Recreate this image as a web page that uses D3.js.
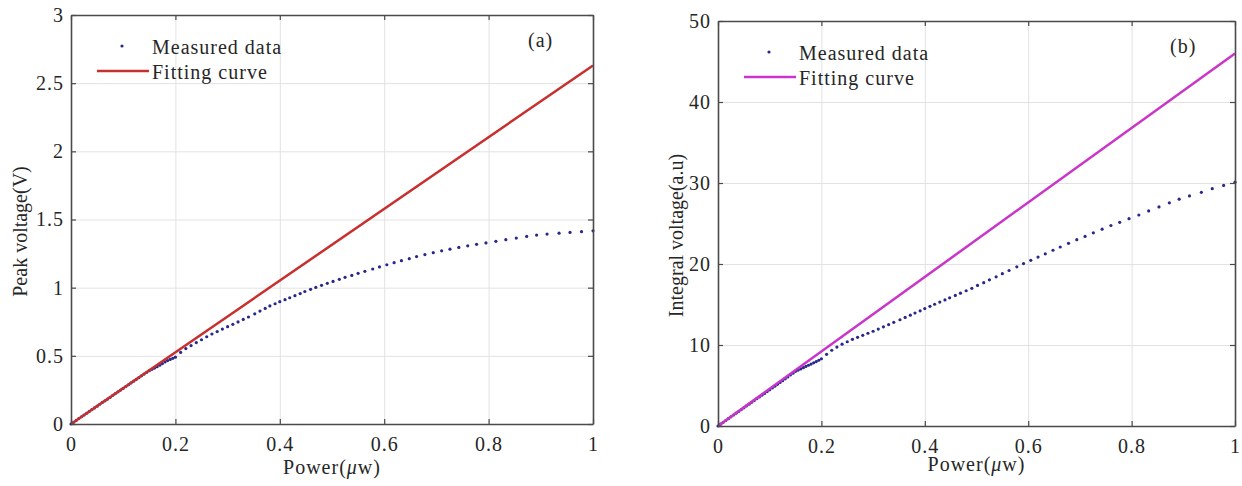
<!DOCTYPE html>
<html>
<head>
<meta charset="utf-8">
<script src="https://cdn.jsdelivr.net/npm/d3@7"></script>
<style>
  body { margin: 0; background: #fff; }
  svg text { font-family: "Liberation Serif", "Times New Roman", serif; fill: #262626; }
</style>
</head>
<body>
<svg id="chart" width="1242" height="486"></svg>
<script>
// measured power (uW), shared by both panels
const power = [
  0, 0.005, 0.01, 0.015, 0.02, 0.025, 0.03, 0.035, 0.04, 0.045, 0.05, 0.055, 0.06, 0.065, 0.07,
  0.075, 0.08, 0.085, 0.09, 0.095, 0.1, 0.105, 0.11, 0.115, 0.12, 0.125, 0.13, 0.135, 0.14, 0.145,
  0.15, 0.155, 0.16, 0.165, 0.17, 0.175, 0.18, 0.185, 0.19, 0.195, 0.2,
  0.21, 0.22, 0.23, 0.24, 0.25, 0.26, 0.27, 0.28, 0.29, 0.3, 0.31, 0.32, 0.33, 0.34,
  0.352, 0.362, 0.372, 0.381, 0.391, 0.4, 0.41, 0.419, 0.429, 0.439, 0.448, 0.459, 0.469, 0.48,
  0.491, 0.502, 0.514, 0.525, 0.538, 0.55, 0.563, 0.578, 0.591, 0.605, 0.619, 0.633, 0.648, 0.662,
  0.678, 0.694, 0.71,
  0.726, 0.743, 0.76, 0.777, 0.795, 0.814, 0.833, 0.853, 0.873, 0.892, 0.912, 0.935, 0.956, 0.978, 1
];

// (a) peak voltage (V)
const peakVoltage = [
  0, 0.013, 0.026, 0.04, 0.053, 0.066, 0.079, 0.092, 0.105, 0.118, 0.131, 0.145, 0.158, 0.17, 0.183,
  0.196, 0.21, 0.223, 0.236, 0.249, 0.262, 0.275, 0.288, 0.301, 0.314, 0.327, 0.34, 0.353, 0.366, 0.379,
  0.391, 0.401, 0.41, 0.42, 0.431, 0.443, 0.455, 0.465, 0.474, 0.482, 0.49,
  0.525, 0.553, 0.575, 0.597, 0.618, 0.64, 0.66, 0.678, 0.696, 0.714, 0.731, 0.749, 0.767, 0.785,
  0.808, 0.828, 0.848, 0.866, 0.882, 0.897, 0.912, 0.926, 0.941, 0.957, 0.972, 0.988, 1.002, 1.017,
  1.032, 1.046, 1.061, 1.076, 1.09, 1.105, 1.12, 1.137, 1.152, 1.168, 1.183, 1.198, 1.213, 1.228,
  1.243, 1.257, 1.27,
  1.282, 1.295, 1.307, 1.318, 1.328, 1.34, 1.352, 1.364, 1.376, 1.386, 1.393, 1.4, 1.405, 1.411, 1.417
];

// (b) integral voltage (a.u)
const integralVoltage = [
  0, 0.22, 0.45, 0.68, 0.9, 1.13, 1.36, 1.58, 1.8, 2.03, 2.25, 2.48, 2.7, 2.92, 3.15,
  3.37, 3.58, 3.8, 4.02, 4.25, 4.47, 4.7, 4.92, 5.15, 5.38, 5.6, 5.83, 6.06, 6.3, 6.52,
  6.75, 6.9, 7.05, 7.2, 7.35, 7.5, 7.65, 7.8, 7.95, 8.12, 8.3,
  8.85, 9.35, 9.75, 10.1, 10.4, 10.7, 10.95, 11.2, 11.45, 11.7, 11.97, 12.25, 12.52, 12.8,
  13.12, 13.4, 13.68, 13.95, 14.22, 14.5, 14.78, 15.03, 15.3, 15.57, 15.82, 16.12, 16.4, 16.7,
  17.0, 17.35, 17.7, 18.05, 18.42, 18.8, 19.2, 19.65, 20.05, 20.45, 20.85, 21.25, 21.7, 22.1,
  22.55, 23.0, 23.4,
  23.85, 24.3, 24.75, 25.15, 25.6, 26.05, 26.55, 27.05, 27.55, 28.0, 28.4, 28.85, 29.3, 29.7, 30.1
];

// fitted lines (end points)
const fitPower = [0, 1];
const fitPeak = [0, 2.63];
const fitIntegral = [0, 46];

// ticks
const xTicks = [0, 0.2, 0.4, 0.6, 0.8, 1];
const yTicksA = [0, 0.5, 1, 1.5, 2, 2.5, 3];
const yTicksB = [0, 10, 20, 30, 40, 50];

const svg = d3.select("#chart");
const dotColor = "#27288a";
const boxColor = "#4a4a4a";

function drawPanel(box, yDomain, yTicks, yValues, fitValues, fitColor, yLabel, tag, xLabelY, yLabelX) {
    const x = d3.scaleLinear().domain([0, 1]).range([box.left, box.right]);
    const y = d3.scaleLinear().domain(yDomain).range([box.bottom, box.top]);
    const w = box.right - box.left;
    const h = box.bottom - box.top;
    const g = svg.append("g");

    // grid lines
    g.append("g")
        .attr("transform", `translate(0,${box.bottom})`)
        .call(d3.axisBottom(x).tickValues(xTicks).tickSize(-h).tickFormat(""))
        .call(s => s.select(".domain").remove())
        .selectAll("line").attr("stroke", "#e2e2e2").attr("stroke-width", 1);
    g.append("g")
        .attr("transform", `translate(${box.left},0)`)
        .call(d3.axisLeft(y).tickValues(yTicks).tickSize(-w).tickFormat(""))
        .call(s => s.select(".domain").remove())
        .selectAll("line").attr("stroke", "#e2e2e2").attr("stroke-width", 1);

    // measured dots
    g.append("g").selectAll("circle")
        .data(power.map((p, i) => [p, yValues[i]]))
        .enter()
        .append("circle")
        .attr("cx", d => x(d[0]))
        .attr("cy", d => y(d[1]))
        .attr("r", 1.6)
        .attr("fill", dotColor);

    // fitting curve
    const line = d3.line().x(d => x(d[0])).y(d => y(d[1]));
    g.append("path")
        .datum(fitPower.map((p, i) => [p, fitValues[i]]))
        .attr("d", line)
        .attr("fill", "none")
        .attr("stroke", fitColor)
        .attr("stroke-width", 2.5);

    // box with inward ticks on all sides
    const styleAxis = s => {
        s.select(".domain").attr("stroke", boxColor).attr("stroke-width", 1.6);
        s.selectAll(".tick line").attr("stroke", boxColor).attr("stroke-width", 1.2);
        s.selectAll("text").attr("font-size", 20).attr("letter-spacing", "1px").attr("fill", "#262626");
    };
    g.append("g")
        .attr("transform", `translate(0,${box.bottom})`)
        .call(d3.axisBottom(x).tickValues(xTicks).tickSizeInner(-5).tickSizeOuter(0).tickPadding(13).tickFormat(d => String(d)))
        .call(styleAxis);
    g.append("g")
        .attr("transform", `translate(0,${box.top})`)
        .call(d3.axisTop(x).tickValues(xTicks).tickSizeInner(-5).tickSizeOuter(0).tickFormat(""))
        .call(styleAxis);
    g.append("g")
        .attr("transform", `translate(${box.left},0)`)
        .call(d3.axisLeft(y).tickValues(yTicks).tickSizeInner(-5).tickSizeOuter(0).tickPadding(7).tickFormat(d => String(d)))
        .call(styleAxis);
    g.append("g")
        .attr("transform", `translate(${box.right},0)`)
        .call(d3.axisRight(y).tickValues(yTicks).tickSizeInner(-5).tickSizeOuter(0).tickFormat(""))
        .call(styleAxis);

    // axis labels
    const xl = g.append("text")
        .attr("x", (box.left + box.right) / 2)
        .attr("y", xLabelY)
        .attr("text-anchor", "middle")
        .attr("font-size", 20)
        .attr("letter-spacing", "1px");
    xl.append("tspan").text("Power(");
    xl.append("tspan").attr("font-style", "italic").text("\u03bc");
    xl.append("tspan").text("w)");

    g.append("text")
        .attr("transform", `translate(${yLabelX},${(box.top + box.bottom) / 2 + 12}) rotate(-90)`)
        .attr("text-anchor", "middle")
        .attr("font-size", 20)
        .text(yLabel);

    // panel tag
    g.append("text")
        .attr("x", box.right - 65)
        .attr("y", box.top + 32)
        .attr("font-size", 20)
        .attr("letter-spacing", "1px")
        .text(tag);

    // legend
    const lx = box.left, ly = box.top;
    g.append("circle")
        .attr("cx", lx + 51).attr("cy", ly + 31).attr("r", 1.6).attr("fill", dotColor);
    g.append("text")
        .attr("x", lx + 81).attr("y", ly + 39)
        .attr("font-size", 20).attr("letter-spacing", "1px")
        .text("Measured data");
    g.append("line")
        .attr("x1", lx + 26).attr("x2", lx + 78)
        .attr("y1", ly + 56).attr("y2", ly + 56)
        .attr("stroke", fitColor).attr("stroke-width", 2.5);
    g.append("text")
        .attr("x", lx + 81).attr("y", ly + 64)
        .attr("font-size", 20).attr("letter-spacing", "1px")
        .text("Fitting curve");
}

drawPanel({left: 71, right: 593, top: 15, bottom: 424}, [0, 3], yTicksA, peakVoltage, fitPeak,
    "#c8302e", "Peak voltage(V)", "(a)", 474, 27);
drawPanel({left: 718, right: 1235, top: 21, bottom: 426}, [0, 50], yTicksB, integralVoltage, fitIntegral,
    "#c934c9", "Integral voltage(a.u)", "(b)", 471, 683);
</script>
</body>
</html>
